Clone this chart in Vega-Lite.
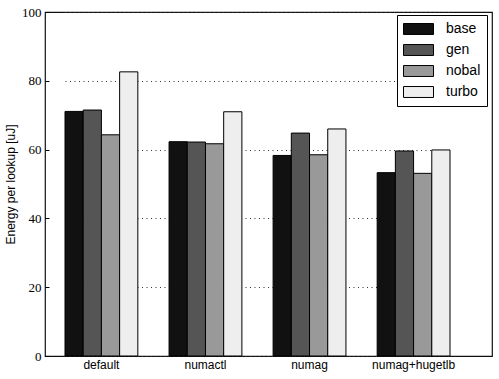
{
  "$schema": "https://vega.github.io/schema/vega-lite/v6.json",
  "width": 447,
  "height": 344,
  "autosize": {"type": "none"},
  "padding": {"left": 45, "top": 12, "right": 7, "bottom": 23},
  "background": "white",
  "config": {
    "view": {"stroke": "#111", "strokeWidth": 1.2},
    "font": "Liberation Sans"
  },
  "data": {
    "values": [
      {"config": "default", "variant": "base", "energy": 71.1},
      {"config": "default", "variant": "gen", "energy": 71.5},
      {"config": "default", "variant": "nobal", "energy": 64.3},
      {"config": "default", "variant": "turbo", "energy": 82.6},
      {"config": "numactl", "variant": "base", "energy": 62.3},
      {"config": "numactl", "variant": "gen", "energy": 62.2},
      {"config": "numactl", "variant": "nobal", "energy": 61.7},
      {"config": "numactl", "variant": "turbo", "energy": 71.0},
      {"config": "numag", "variant": "base", "energy": 58.3},
      {"config": "numag", "variant": "gen", "energy": 64.8},
      {"config": "numag", "variant": "nobal", "energy": 58.5},
      {"config": "numag", "variant": "turbo", "energy": 66.0},
      {"config": "numag+hugetlb", "variant": "base", "energy": 53.3},
      {"config": "numag+hugetlb", "variant": "gen", "energy": 59.6},
      {"config": "numag+hugetlb", "variant": "nobal", "energy": 53.1},
      {"config": "numag+hugetlb", "variant": "turbo", "energy": 59.9}
    ]
  },
  "mark": {"type": "bar", "stroke": "#000", "strokeWidth": 1},
  "encoding": {
    "x": {
      "field": "config",
      "type": "nominal",
      "sort": ["default", "numactl", "numag", "numag+hugetlb"],
      "scale": {"range": [20, 405], "paddingInner": 0.3, "paddingOuter": 0},
      "axis": {
        "title": null,
        "labelAngle": 0,
        "domain": false,
        "ticks": false,
        "labelPadding": 3,
        "labelDx": -4,
        "labelFont": "Liberation Sans",
        "labelFontSize": 12,
        "labelColor": "#000"
      }
    },
    "xOffset": {
      "field": "variant",
      "type": "nominal",
      "sort": ["base", "gen", "nobal", "turbo"],
      "scale": {"paddingInner": 0, "paddingOuter": 0}
    },
    "y": {
      "field": "energy",
      "type": "quantitative",
      "scale": {"domain": [0, 100], "nice": false},
      "axis": {
        "title": "Energy per lookup [uJ]",
        "titleFont": "Liberation Sans",
        "titleFontSize": 12,
        "titleFontWeight": "normal",
        "titleColor": "#000",
        "titlePadding": 4,
        "values": [0, 20, 40, 60, 80, 100],
        "domain": false,
        "tickSize": -4,
        "tickColor": "#000",
        "labelPadding": 8,
        "labelFont": "Liberation Serif",
        "labelFontSize": 13,
        "labelColor": "#000",
        "grid": true,
        "gridColor": "#333",
        "gridDash": [1, 3.5],
        "gridWidth": 1
      }
    },
    "fill": {
      "field": "variant",
      "type": "nominal",
      "sort": ["base", "gen", "nobal", "turbo"],
      "scale": {"range": ["#111111", "#555555", "#999999", "#eeeeee"]},
      "legend": {
        "title": null,
        "orient": "none",
        "legendX": 352,
        "legendY": 3,
        "fillColor": "white",
        "strokeColor": "#000",
        "padding": 6,
        "symbolType": "M-1,-0.73H3V0.73H-1Z",
        "symbolSize": 225,
        "symbolStrokeColor": "#000",
        "symbolStrokeWidth": 1,
        "labelFont": "Liberation Sans",
        "labelFontSize": 14,
        "labelColor": "#000",
        "labelOffset": 27,
        "rowPadding": 5
      }
    }
  }
}
